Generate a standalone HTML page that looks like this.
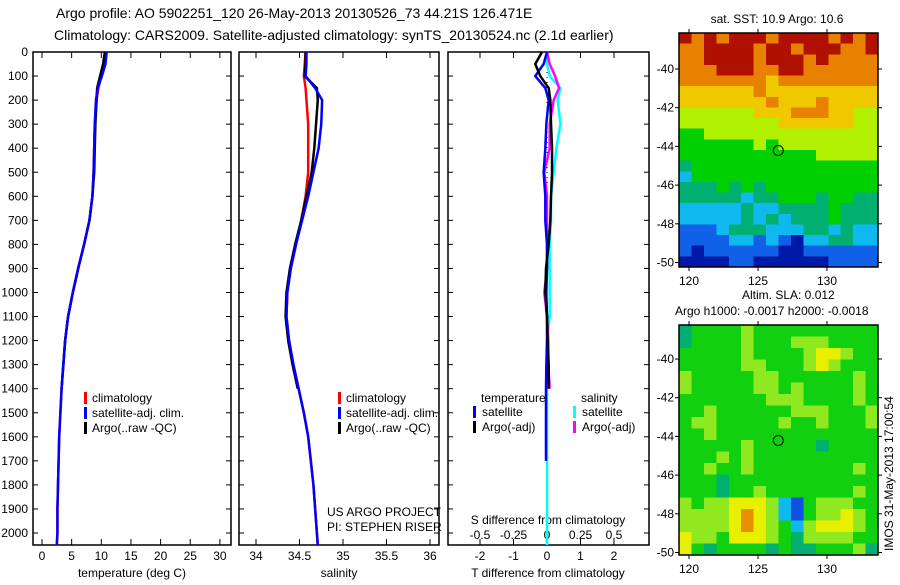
<!DOCTYPE html>
<html><head><meta charset="utf-8"><style>
body{margin:0;background:#fff;width:900px;height:580px;overflow:hidden}
svg{font-family:"Liberation Sans",sans-serif;font-size:12px}
</style></head><body>
<svg id="c" width="900" height="580"></svg>
<script>
const depths=[0,50,100,150,200,300,400,500,600,700,800,900,1000,1100,1200,1300,1400,1500,1600,1700,1800,1900,2000,2050];
const tempClim=[10.8,10.6,10.0,9.5,9.2,8.9,8.8,8.7,8.5,8.0,7.1,6.1,5.2,4.4,3.9,3.6,3.3,3.1,2.9,2.8,2.7,2.6,2.6,2.5];
const tempSat=[10.9,10.7,10.1,9.4,9.1,8.9,8.8,8.7,8.5,8.0,7.1,6.1,5.2,4.4,3.9,3.6,3.3,3.1,2.9,2.8,2.7,2.6,2.6,2.5];
const tempArgo=[10.6,10.3,9.8,9.3,9.2,9.0,8.9,8.8,8.5,8.0,7.1,6.1,5.2,4.4,3.9,3.6,3.3];
const salClim=[34.57,34.56,34.55,34.57,34.58,34.6,34.6,34.6,34.57,34.52,34.46,34.4,34.36,34.35,34.38,34.43,34.49,34.55,34.6,34.63,34.66,34.68,34.7,34.71];
const salSat=[34.58,34.58,34.57,34.68,34.76,34.75,34.72,34.66,34.6,34.53,34.46,34.4,34.36,34.35,34.38,34.43,34.49,34.55,34.6,34.63,34.66,34.68,34.7,34.71];
const salArgo=[34.57,34.57,34.56,34.7,34.71,34.69,34.67,34.64,34.58,34.52,34.45,34.39,34.35,34.34,34.37,34.42,34.48];
const dTsat=[0.0,-0.1,-0.35,-0.05,0.05,-0.02,-0.05,-0.1,-0.05,-0.05,0.0,0.0,-0.02,0.0,0.0,-0.02,-0.03,-0.03,-0.03,-0.03];
const dTargo=[-0.15,-0.35,-0.2,0.05,0.1,0.12,0.15,0.15,0.12,0.1,0.05,-0.03,-0.05,0.0,0.02,0.05,0.05];
const dSsat=[0.0,0.0,0.02,0.1,0.08,0.1,0.07,0.05,0.03,0.03,0.02,0.02,0.02,0.02,0.0,0.0,0.0,0.0,0.0,0.0,0.0,0.0,0.0,0.0];
const dSargo=[0.0,0.02,0.06,0.09,0.05,0.02,0.02,-0.02,0.0,0.0,0.0,0.0,-0.02,0.0,0.01,0.01,0.02];
const depthTicks=[0,100,200,300,400,500,600,700,800,900,1000,1100,1200,1300,1400,1500,1600,1700,1800,1900,2000];
const tTicks=[0,5,10,15,20,25,30];
const sTicks=[34,34.5,35,35.5,36];
const dTicks=[-2,-1,0,1,2];
const dSTickLabels=["-0.5","-0.25","0","0.25","0.5"];
const latTicks=[-40,-42,-44,-46,-48,-50];
const lonTicks=[120,125,130];
const sstRows=["9898999899998989","8899998998999889","8899998999898888","8889998899888888","8888888788888888","7777778777777777","7777777877787777","6666667778887766","6666666677777766","5566666666666666","5555556566666666","5555555555566666","4555555555555555","3555555555555555","4445454555555555","4444434455545544","3333343344445444","3333343434445444","2223444333443433","2222332321334433","2122222211222222","1111221111112222"];
const slaRows=["4555565555555555","4555565556665555","5555565555677655","5555566555676555","6555556655555565","6555556656555565","5555555666555565","5565555556665556","5665555565565556","5565555555555555","5555565555545555","5556565555555555","5565565555555565","5554555555555555","5554556555555565","6566777632566655","6666787632566765","6666787653677765","7665777654666655","7545555454455564"];
const sstPal=["#000080","#0018a8","#1060e8","#10b8f0","#00b070","#00d000","#b0f000","#f0c800","#e88000","#b01000"];
const slaPal=["#000080","#0018a8","#1050e0","#10b8f0","#00b070","#10d010","#90e820","#e8f000","#e89000","#b01000"];

const S=document.getElementById('c');const NS="http://www.w3.org/2000/svg";
function el(t,a,txt){const e=document.createElementNS(NS,t);for(const k in a)e.setAttribute(k,a[k]);if(txt!==undefined)e.textContent=txt;S.appendChild(e);return e;}
const yD=d=>52+d*0.2405;
const xT=t=>42+t*5.93, xS=s=>256+(s-34)*87, xD=t=>547+t*33.5, xDS=s=>547+s*134;
function line(xs,ys,col,name,w){const p=xs.map((v,i)=>[v,ys[i]]).map(q=>q.join(',')).join(' ');
 const e=el('polyline',{points:p,fill:'none',stroke:col,'stroke-width':w||2.5});
 }
function txt(x,y,s,anchor,name){const e=el('text',{x:x,y:y,'text-anchor':anchor||'start'},s);
 return e;}
function box(x0,x1,name){const e=el('rect',{x:x0,y:52,width:x1-x0,height:493,fill:'none',stroke:'#000','stroke-width':1.5});
 
 depthTicks.forEach(d=>{el('line',{x1:x0,x2:x0+5,y1:yD(d),y2:yD(d),stroke:'#000'});el('line',{x1:x1,x2:x1-5,y1:yD(d),y2:yD(d),stroke:'#000'});});}
function xticks(vals,f,labels,name){vals.forEach((v,i)=>{const x=f(v);el('line',{x1:x,x2:x,y1:545,y2:539,stroke:'#000'});el('line',{x1:x,x2:x,y1:52,y2:58,stroke:'#000'});
 txt(x,560,labels?labels[i]:String(v),'middle',name);});}
txt(56,18,"Argo profile: AO 5902251_120 26-May-2013 20130526_73 44.21S 126.471E",'start','title-line-1').setAttribute('font-size','14');
txt(54,40,"Climatology: CARS2009. Satellite-adjusted climatology: synTS_20130524.nc (2.1d earlier)",'start','title-line-2').setAttribute('font-size','14');
box(33,231,'temperature-panel');
depthTicks.forEach(d=>txt(28,yD(d)+4,String(d),'end','depth-tick-label'));
xticks(tTicks,xT,null,'temperature-tick-label');
txt(132,577,"temperature (deg C)",'middle','temperature-axis-title');
line(tempClim.map(xT),depths.map(yD),'#f00','temp-climatology-line');
line(tempArgo.map(xT),depths.slice(0,tempArgo.length).map(yD),'#000','temp-argo-line');
line(tempSat.map(xT),depths.map(yD),'#00f','temp-satellite-line');
box(239,439,'salinity-panel');
xticks(sTicks,xS,null,'salinity-tick-label');
txt(339,577,"salinity",'middle','salinity-axis-title');
line(salClim.map(xS),depths.map(yD),'#f00','sal-climatology-line');
line(salArgo.map(xS),depths.slice(0,salArgo.length).map(yD),'#000','sal-argo-line');
line(salSat.map(xS),depths.map(yD),'#00f','sal-satellite-line');
txt(327,516,"US ARGO PROJECT",'start','project-label');
txt(327,531,"PI: STEPHEN RISER",'start','pi-label');
function legend(x,names,cols,pre){names.forEach((n,i)=>{const y=402+i*15;el('rect',{x:x,y:y-10,width:3,height:12,fill:cols[i]});txt(x+8,y,n,'start',pre+'-legend-entry');});}
legend(84,["climatology","satellite-adj. clim.","Argo(..raw -QC)"],["#f00","#00f","#000"],'temp');
legend(338,["climatology","satellite-adj. clim.","Argo(..raw -QC)"],["#f00","#00f","#000"],'sal');
box(448,649,'difference-panel');
el('line',{x1:547,x2:547,y1:52,y2:545,stroke:'#000','stroke-dasharray':'1,4'});
xticks(dTicks,xD,null,'t-diff-tick-label');
dTicks.forEach((v,i)=>txt(xD(v),539,dSTickLabels[i],'middle','s-diff-tick-label'));
txt(548,524,"S difference from climatology",'middle','s-diff-axis-title');
txt(548,577,"T difference from climatology",'middle','t-diff-axis-title');
line(dSsat.map(xDS),depths.map(yD),'#0ff','s-diff-satellite-line');
line(dSargo.map(xDS),depths.slice(0,dSargo.length).map(yD),'#f0f','s-diff-argo-line');
line(dTsat.map(xD),depths.slice(0,dTsat.length).map(yD),'#00f','t-diff-satellite-line');
line(dTargo.map(xD),depths.slice(0,dTargo.length).map(yD),'#000','t-diff-argo-line');
txt(481,402,"temperature",'start','temperature-legend-header');
txt(581,402,"salinity",'start','salinity-legend-header');
[["satellite","#00f",473],["Argo(-adj)","#000",473]].forEach((a,i)=>{el('rect',{x:a[2],y:406+i*15,width:3,height:12,fill:a[1]});txt(482,416+i*15,a[0],'start','t-diff-legend-entry');});
[["satellite","#0ff",573],["Argo(-adj)","#f0f",573]].forEach((a,i)=>{el('rect',{x:a[2],y:406+i*15,width:3,height:12,fill:a[1]});txt(582,416+i*15,a[0],'start','s-diff-legend-entry');});
function map(y0,y1,rows,pal,name,latY){const x0=679,x1=878;const nr=rows.length,nc=rows[0].length;
 const g=el('g',{'shape-rendering':'crispEdges'});
 rows.forEach((r,i)=>{for(let j=0;j<nc;j++){const c=document.createElementNS(NS,'rect');
  c.setAttribute('x',x0+j*(x1-x0)/nc);c.setAttribute('y',y0+i*(y1-y0)/nr);c.setAttribute('width',(x1-x0)/nc+0.5);c.setAttribute('height',(y1-y0)/nr+0.5);c.setAttribute('fill',pal[+r[j]]);g.appendChild(c);}});
 el('rect',{x:x0,y:y0,width:x1-x0,height:y1-y0,fill:'none',stroke:'#000','stroke-width':1.5});
 const lx=v=>689+(v-120)*13.8, ly=v=>latY+(-40-v)*19.35;
 lonTicks.forEach(v=>{el('line',{x1:lx(v),x2:lx(v),y1:y1,y2:y1+4,stroke:'#000'});el('line',{x1:lx(v),x2:lx(v),y1:y0,y2:y0-4,stroke:'#000'});txt(lx(v),y1+18,String(v),'middle','longitude-tick-label');});
 latTicks.forEach(v=>{el('line',{x1:x0,x2:x0-4,y1:ly(v),y2:ly(v),stroke:'#000'});el('line',{x1:x1,x2:x1+4,y1:ly(v),y2:ly(v),stroke:'#000'});txt(x0-5,ly(v)+4,String(v),'end','latitude-tick-label');});
 const m=el('circle',{cx:lx(126.47),cy:ly(-44.21),r:5,fill:'none',stroke:'#000'});}
map(33,267,sstRows,sstPal,'sst-map',69);
map(325,555,slaRows,slaPal,'sla-map',359);
txt(777,23,"sat. SST: 10.9 Argo: 10.6",'middle','sst-map-title');
txt(742,299,"Altim. SLA: 0.012",'start','sla-map-title');
txt(675,315,"Argo h1000: -0.0017 h2000: -0.0018",'start','sla-map-subtitle');
const v=txt(0,0,"IMOS 31-May-2013 17:00:54",'start','timestamp-label');v.setAttribute('transform','translate(893,551) rotate(-90)');
</script>
</body></html>
